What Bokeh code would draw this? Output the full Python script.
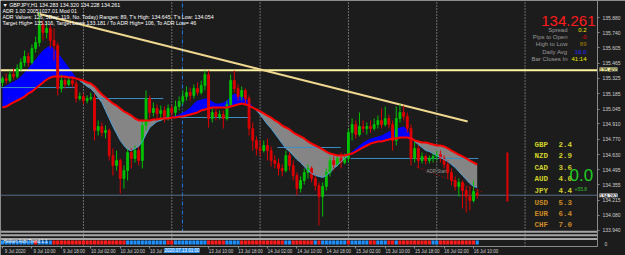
from bokeh.plotting import figure
from bokeh.models import Range1d, FixedTicker, Label, PrintfTickFormatter
from bokeh.embed import file_html
from bokeh.resources import INLINE
import numpy as np

# ---------------- data ----------------
bars = list(range(130))
opens = [135.288,135.324,135.306,135.361,135.343,135.416,135.470,135.525,135.470,135.598,
 135.652,135.816,135.743,135.780,135.671,135.625,135.233,135.306,135.270,135.306,
 135.279,135.142,135.160,135.124,135.142,135.151,134.851,134.887,134.832,134.851,
 134.623,134.532,134.577,134.413,134.486,134.650,134.596,134.668,134.577,134.896,
 135.142,135.015,135.051,135.006,135.033,134.978,135.051,135.015,135.069,135.115,
 135.160,135.197,135.170,135.233,135.197,135.261,135.361,134.960,135.015,134.978,
 134.996,134.960,135.088,135.306,135.233,135.160,135.215,135.142,134.869,134.760,
 134.687,134.668,134.714,134.668,134.577,134.550,134.505,134.486,134.623,134.532,
 134.441,134.322,134.395,134.468,134.505,134.413,134.350,134.249,134.341,134.468,
 134.577,134.541,134.596,134.559,134.596,134.832,134.905,134.814,134.887,134.869,
 134.887,134.869,134.905,134.942,134.905,134.960,134.905,134.760,134.960,135.015,
 134.978,134.869,134.596,134.687,134.577,134.614,134.577,134.596,134.614,134.632,
 134.596,134.541,134.468,134.395,134.341,134.377,134.304,134.249,134.213,134.283]
closes = [135.324,135.306,135.361,135.343,135.416,135.470,135.525,135.470,135.598,135.652,
 135.816,135.743,135.780,135.671,135.625,135.233,135.306,135.270,135.306,135.279,
 135.142,135.160,135.124,135.142,135.151,134.851,134.887,134.832,134.851,134.623,
 134.532,134.577,134.413,134.486,134.650,134.596,134.668,134.577,134.896,135.142,
 135.015,135.051,135.006,135.033,134.978,135.051,135.015,135.069,135.115,135.160,
 135.197,135.170,135.233,135.197,135.261,135.361,134.960,135.015,134.978,134.996,
 134.960,135.088,135.306,135.233,135.160,135.215,135.142,134.869,134.760,134.687,
 134.668,134.714,134.668,134.577,134.550,134.505,134.486,134.623,134.532,134.441,
 134.322,134.395,134.468,134.505,134.413,134.350,134.249,134.341,134.468,134.577,
 134.541,134.596,134.559,134.596,134.832,134.905,134.814,134.887,134.869,134.887,
 134.869,134.905,134.942,134.905,134.960,134.905,134.760,134.960,135.015,134.978,
 134.869,134.596,134.687,134.577,134.614,134.577,134.596,134.614,134.632,134.596,
 134.541,134.468,134.395,134.341,134.377,134.304,134.249,134.213,134.295,134.261]
highs = [135.343,135.370,135.397,135.416,135.452,135.507,135.579,135.561,135.634,135.707,
 135.926,135.853,135.835,135.816,135.780,135.652,135.361,135.343,135.334,135.343,
 135.306,135.197,135.188,135.170,135.197,135.188,134.942,134.924,134.896,134.869,
 134.687,134.668,134.596,134.532,134.687,134.687,134.714,134.705,134.942,135.215,
 135.170,135.106,135.088,135.078,135.069,135.088,135.078,135.124,135.160,135.215,
 135.252,135.242,135.270,135.288,135.306,135.397,135.397,135.051,135.051,135.033,
 135.033,135.124,135.361,135.397,135.270,135.252,135.233,135.170,134.924,134.796,
 134.760,134.760,134.778,134.705,134.623,134.596,134.541,134.668,134.650,134.577,
 134.468,134.432,134.505,134.541,134.523,134.450,134.377,134.377,134.505,134.614,
 134.614,134.623,134.650,134.641,134.869,134.960,134.942,135.015,134.942,134.924,
 134.942,134.960,134.987,135.051,135.069,134.996,134.942,135.069,135.088,135.078,
 135.015,134.905,134.760,134.723,134.650,134.632,134.623,134.650,134.668,134.668,
 134.623,134.577,134.505,134.432,134.413,134.395,134.341,134.341,134.395,134.320]
lows = [135.252,135.279,135.288,135.315,135.324,135.397,135.434,135.434,135.452,135.561,
 135.616,135.671,135.689,135.598,135.488,135.170,135.197,135.233,135.252,135.242,
 135.106,135.124,135.088,135.097,135.124,134.760,134.805,134.796,134.778,134.577,
 134.441,134.486,134.277,134.322,134.395,134.505,134.559,134.532,134.505,134.851,
 134.960,134.978,134.960,134.942,134.924,134.942,134.960,134.978,135.033,135.088,
 135.124,135.124,135.142,135.170,135.179,135.215,134.878,134.924,134.942,134.951,
 134.869,134.942,135.069,135.197,135.124,135.124,135.088,134.805,134.668,134.623,
 134.614,134.650,134.577,134.523,134.505,134.441,134.432,134.468,134.486,134.395,
 134.259,134.286,134.359,134.413,134.377,134.304,133.985,134.067,134.304,134.432,
 134.486,134.523,134.505,134.541,134.559,134.760,134.778,134.796,134.832,134.814,
 134.832,134.851,134.869,134.869,134.887,134.869,134.668,134.714,134.924,134.942,
 134.832,134.532,134.559,134.505,134.550,134.541,134.550,134.559,134.577,134.559,
 134.505,134.413,134.350,134.304,134.249,134.140,134.104,134.122,134.195,134.228]
ma_slow = [135.060,135.069,135.088,135.106,135.124,135.142,135.160,135.188,135.206,135.233,
 135.261,135.288,135.315,135.334,135.343,135.343,135.343,135.343,135.334,135.334,
 135.324,135.315,135.306,135.288,135.279,135.252,135.215,135.179,135.151,135.124,
 135.097,135.078,135.051,135.024,135.006,134.987,134.960,134.942,134.942,134.942,
 134.942,134.951,134.951,134.960,134.960,134.960,134.969,134.969,134.978,134.978,
 134.987,134.996,135.006,135.015,135.033,135.042,135.051,135.060,135.060,135.060,
 135.060,135.060,135.069,135.078,135.088,135.097,135.088,135.078,135.060,135.042,
 135.024,135.006,134.987,134.969,134.942,134.924,134.896,134.878,134.860,134.832,
 134.814,134.796,134.778,134.751,134.732,134.714,134.696,134.678,134.659,134.641,
 134.632,134.623,134.623,134.623,134.632,134.641,134.659,134.678,134.696,134.714,
 134.732,134.741,134.751,134.751,134.760,134.769,134.778,134.778,134.787,134.787,
 134.787,134.778,134.760,134.751,134.741,134.741,134.732,134.723,134.714,134.714,
 134.705,134.687,134.668,134.650,134.632,134.614,134.596,134.577,134.559,134.541]
ma_fast = [135.242,135.261,135.279,135.297,135.315,135.343,135.379,135.416,135.461,135.498,
 135.543,135.579,135.607,135.625,135.598,135.561,135.516,135.470,135.425,135.379,
 135.334,135.306,135.279,135.252,135.233,135.197,135.151,135.106,135.033,134.960,
 134.887,134.823,134.760,134.714,134.678,134.668,134.687,134.705,134.751,134.814,
 134.878,134.905,134.933,134.942,134.960,134.969,134.978,134.987,134.996,135.015,
 135.033,135.060,135.097,135.124,135.133,135.142,135.142,135.115,135.097,135.097,
 135.106,135.124,135.160,135.188,135.179,135.160,135.142,135.115,135.069,135.033,
 134.996,134.951,134.905,134.869,134.823,134.778,134.732,134.687,134.659,134.623,
 134.587,134.559,134.523,134.486,134.459,134.441,134.432,134.423,134.441,134.468,
 134.505,134.532,134.568,134.596,134.623,134.659,134.687,134.714,134.741,134.760,
 134.778,134.787,134.796,134.805,134.823,134.842,134.851,134.869,134.878,134.887,
 134.860,134.805,134.751,134.723,134.696,134.668,134.659,134.641,134.623,134.605,
 134.587,134.568,134.541,134.514,134.477,134.441,134.404,134.368,134.341,134.331]
trend_up = [1,1,1,1,1,1,1,1,1,0, 1,1,1,1,0,0,0,0,0,0, 0,0,0,0,0,0,0,0,0,0,
 0,0,0,0,1,1,1,1,1,1, 1,1,1,1,1,0,0,1,1,1, 1,1,1,1,1,1,0,0,0,0,
 0,1,1,1,1,0,0,0,0,0, 0,0,0,0,0,0,0,1,1,0, 0,0,0,0,0,1,0,1,1,1,
 1,1,1,1,0,1,1,1,1,1, 0,0,1,1,1,0,0,1,0,0, 0,0,0,0,0,0,0,1,1,0,
 0,0,0,0,0,0,0,0,0,1]

time_ticks = [0, 8, 16, 24, 32, 40, 56, 64, 72, 80, 88, 96, 104, 112, 120, 128]
time_labels = ["9 Jul 2020", "9 Jul 10:00", "9 Jul 18:00", "10 Jul 02:00", "10 Jul 10:00",
               "10 Jul 18:00", "13 Jul 10:00", "13 Jul 18:00", "14 Jul 02:00", "14 Jul 10:00",
               "14 Jul 18:00", "15 Jul 02:00", "15 Jul 10:00", "15 Jul 18:00", "16 Jul 02:00",
               "16 Jul 10:00"]
day_starts = [22, 46, 70, 94, 118, 142]
price_ticks = [135.880, 135.740, 135.605, 135.465, 135.325, 135.185, 135.045, 134.910,
               134.770, 134.630, 134.495, 134.355, 134.215, 134.080, 133.940]

level_price = [135.242, 135.142, 134.969, 134.696, 134.596]
level_from = [-0.5, 25.0, 43.7, 74.7, 94.6]
level_to = [19.8, 43.7, 67.4, 91.9, 129.3]
trendline_bar = [9.5, 126.4]
trendline_price = [135.917, 134.933]
adr_bar = [112.5, 130.5]
adr_price = [134.520, 134.290]
target_price = 135.400
bid_price = 134.261
vline_bar = 48.9
range_bar = 137.2
range_high = 134.650
range_low = 134.204

currencies = ["GBP", "NZD", "CAD", "AUD", "JPY", "USD", "EUR", "CHF"]
strength = [2.4, 2.9, 3.6, 4.0, 4.4, 5.3, 6.4, 7.0]

# ---------------- figure ----------------
BG = "#1c1c1c"
PX_PER_BAR = 3.68
PX_PER_PRICE = 1 / 0.00911
W, H = 625, 255
CHART_W, CHART_H = 597, 246          # chart window inside the canvas (axes drawn at its edges)
x_lo = -2 / PX_PER_BAR
x_hi = x_lo + W / PX_PER_BAR
x_edge = x_lo + CHART_W / PX_PER_BAR
p_hi = 136.035
p_lo = p_hi - H / PX_PER_PRICE
p_edge = p_hi - CHART_H / PX_PER_PRICE

p = figure(width=W, height=H, x_range=Range1d(x_lo, x_hi), y_range=Range1d(p_lo, p_hi),
           x_axis_location="above", y_axis_location="left",
           output_backend="svg", toolbar_location=None,
           min_border_left=0, min_border_top=0, min_border_right=0, min_border_bottom=0,
           background_fill_color=BG, border_fill_color=BG, outline_line_color=None)
p.grid.visible = False
ind_k = 3.6
ind_lo = 1 - (H - 242) / ind_k
p.extra_y_ranges = {"ind": Range1d(ind_lo, ind_lo + H / ind_k)}

FONT = "Liberation Sans"
yax = p.yaxis[0]
yax.fixed_location = x_edge
yax.bounds = (p_edge, p_hi)
yax.ticker = FixedTicker(ticks=price_ticks, minor_ticks=[])
yax.formatter = PrintfTickFormatter(format="%.3f")
yax.axis_line_color = "#8a8a8a"
yax.major_tick_line_color = "#8a8a8a"
yax.major_tick_out = 0
yax.major_tick_in = 2
yax.major_label_standoff = -23
yax.major_label_text_font = FONT
yax.major_label_text_font_size = "5px"
yax.major_label_text_color = "#cfcfcf"

xax = p.xaxis[0]
xax.fixed_location = p_edge
xax.bounds = (x_lo, x_edge)
shift = 3.4
xax.ticker = FixedTicker(ticks=[t + shift for t in time_ticks], minor_ticks=time_ticks)
xax.major_label_overrides = {t + shift: l for t, l in zip(time_ticks, time_labels)}
xax.axis_line_color = "#8a8a8a"
xax.major_tick_out = 0
xax.major_tick_in = 0
xax.minor_tick_out = 0
xax.minor_tick_in = 2
xax.minor_tick_line_color = "#8a8a8a"
xax.major_label_standoff = -7
xax.major_label_text_font = FONT
xax.major_label_text_font_size = "4.5px"
xax.major_label_text_color = "#cfcfcf"

# day separators and vertical line
p.segment(x0=day_starts, y0=[p_edge] * 6, x1=day_starts, y1=[p_hi] * 6,
          line_color="#bdbdbd", line_dash="1 2", line_width=1)
p.segment(x0=[vline_bar], y0=[p_hi - 232 / PX_PER_PRICE], x1=[vline_bar], y1=[p_hi],
          line_color="#1e78e6", line_dash="4 2 1 2", line_width=1)

# MA fills
xs = np.array(bars, float)
f = np.array(ma_fast)
s = np.array(ma_slow)
X, F, S = [xs[0]], [f[0]], [s[0]]
for i in range(1, len(xs)):
    d0, d1 = f[i-1] - s[i-1], f[i] - s[i]
    if d0 * d1 < 0:
        t = d0 / (d0 - d1)
        xc = xs[i-1] + t * (xs[i] - xs[i-1])
        yc = s[i-1] + t * (s[i] - s[i-1])
        X.append(xc); F.append(yc); S.append(yc)
    X.append(xs[i]); F.append(f[i]); S.append(s[i])
X, F, S = np.array(X), np.array(F), np.array(S)
up = np.maximum(F, S)
dn = np.minimum(F, S)
p.varea(x=X, y1=S, y2=up, fill_color="#0000ff")
p.varea(x=X, y1=S, y2=dn, fill_color="#858585")

# levels
p.segment(x0=level_from, y0=level_price, x1=level_to, y1=level_price,
          line_color="#3a8fc4", line_width=1)
p.line(x=[x_lo, x_edge], y=[target_price, target_price], line_color="#fff4a0", line_width=2)
p.line(x=[x_lo, x_edge], y=[bid_price, bid_price], line_color="#5a6b85", line_width=1)
p.line(x=trendline_bar, y=trendline_price, line_color="#f0d890", line_width=2)
p.line(x=adr_bar, y=adr_price, line_color="#c01010", line_width=1, line_dash="1 2")

# candles
ob = np.array(opens); cb = np.array(closes)
bull = cb >= ob
bcol = np.where(bull, "#00c000", "#dd0000")
p.segment(x0=bars, y0=lows, x1=bars, y1=highs, line_color=list(bcol), line_width=1)
p.vbar(x=bars, width=0.5, top=list(np.maximum(ob, cb)), bottom=list(np.minimum(ob, cb)),
       fill_color=list(bcol), line_color=list(bcol), line_width=1)

p.line(x=list(X), y=list(dn), line_color="#4fa3dc", line_width=1)
p.line(x=bars, y=ma_slow, line_color="#ff0000", line_width=2)

# daily range bar
p.segment(x0=[range_bar], y0=[range_low], x1=[range_bar], y1=[range_high],
          line_color="#e00000", line_width=2)

# indicator sub-window
for r in [2, 3, 4]:
    p.line(x=[x_lo, x_edge], y=[r, r], y_range_name="ind", line_color="#a6a6a6", line_width=2)
p.rect(x=bars, y=[1] * len(bars), width=0.85, height=1.1, y_range_name="ind",
       fill_color=["#1e90ff" if u else "#ff1a1a" for u in trend_up], line_color=None)


def txt(x, y, text, size, color, align="left", bold=False, font=FONT, bg=None):
    lab = Label(x=x, y=H - y, x_units="screen", y_units="screen", text=text,
                text_font=font, text_font_size=size, text_color=color, text_align=align,
                text_baseline="middle", text_font_style="bold" if bold else "normal")
    if bg:
        lab.background_fill_color = bg
    p.add_layout(lab)


# header
txt(2, 4, "\u25bc GBPJPY,H1  134.283 134.320 134.228 134.261", "5.3px", "#ffffff")
txt(2, 10, "ADR 1.00 20051027.01 Mod 01", "5.3px", "#ffffff")
txt(2, 16, "ADR Values: 126, 5Day: 119, No. Today) Ranges: 89, T's High: 134.645, T's Low: 134.054",
    "5.3px", "#ffffff")
txt(2, 22, "Target High= 135.316, Target Low= 133.181 / To ADR High= 106, To ADR Low= 46",
    "5.3px", "#ffffff")
txt(3, 241, "Heiken Ashi Trend 1.1", "4.5px", "#ffffff")

# price panel
txt(595, 20, "134.261", "15px", "#ff1a1a", align="right")
rows = [("Spread", "0.2", "#e8e800"), ("Pips to Open", "-0", "#e00000"),
        ("High to Low", "89", "#a08000"), ("Daily Avg", "16.0", "#2a2aff"),
        ("Bar Closes In", "41:14", "#f0f000")]
for k, (lab, val, col) in enumerate(rows):
    yy = [29, 36, 43, 51, 58][k]
    txt(567, yy, lab, "6px", "#9a9a9a", align="right")
    txt(586, yy, val, "6px", col, align="right")

# currency strength
cy = [144, 155, 167, 178, 190, 202, 213, 224]
for k, (c, v) in enumerate(zip(currencies, strength)):
    col = "#d2d22a" if k < 5 else "#cc8a24"
    txt(534, cy[k], c, "7.5px", col, bold=True, font="Liberation Mono")
    txt(558, cy[k], f"{v:.1f}", "7.5px", col, bold=True, font="Liberation Mono")
txt(569, 174, "0.0", "17px", "#22cc22")
txt(574, 188, "+55.8", "5px", "#30c030")
txt(426, 171, "ADR Start", "4.5px", "#9a9a9a")

# axis boxes
txt(599, 69, "135.400", "5px", "#000000", bg="#f8f3a8")
txt(599, 195, "134.261", "5px", "#000000", bg="#e8e8e8")
txt(604, 243, "0", "5px", "#cfcfcf")
txt(164, 250, "2020.07.13 01:00", "4.5px", "#ffffff", bg="#2f8fe8")

open("out.html", "w").write(file_html(p, INLINE))
